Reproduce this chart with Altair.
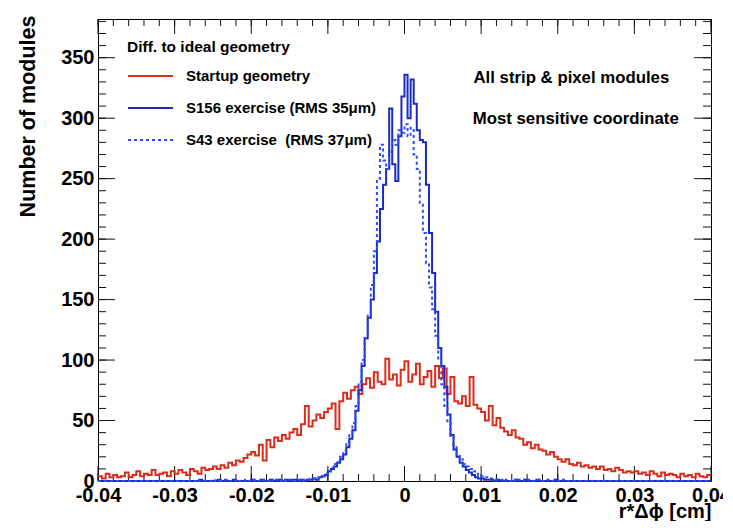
import altair as alt
import pandas as pd

SERIES = ["Startup geometry", "S156 exercise (RMS 35\u03bcm)", "S43 exercise \u00a0(RMS 37\u03bcm)"]
COLORS = ["#dc2b1b", "#1a2cc0", "#2b4dff"]
DASHES = [[1, 0], [1, 0], [3, 3]]

# Startup geometry: 160 bins of 0.0005 from -0.04
red_start = -0.04
red_width = 0.0005
red_counts = [
    4, 2, 6, 3, 5, 3, 4, 7, 3, 5,
    8, 4, 6, 5, 9, 5, 6, 7, 4, 8,
    6, 9, 7, 5, 10, 8, 6, 11, 9, 10,
    12, 10, 13, 11, 15, 13, 17, 16, 19, 22,
    24, 21, 30, 17, 34, 28, 36, 33, 38, 35,
    40, 43, 38, 47, 62, 45, 50, 55, 52, 57,
    60, 64, 43, 66, 73, 68, 75, 78, 72, 80,
    85, 77, 90, 82, 80, 101, 84, 88, 79, 92,
    99, 82, 88, 97, 80, 86, 91, 78, 95, 85,
    93, 72, 86, 66, 64, 70, 62, 86, 63, 60,
    57, 50, 62, 46, 52, 44, 41, 38, 42, 36,
    35, 30, 32, 27, 30, 26, 25, 22, 24, 20,
    18, 16, 18, 14, 13, 15, 12, 13, 11, 12,
    10, 12, 9, 10, 8, 11, 9, 7, 8, 7,
    8, 6, 7, 5, 8, 6, 4, 7, 5, 6,
    5, 3, 6, 4, 5, 3, 6, 4, 3, 5,
]

# S156 / S43 exercises: 200 bins of 0.0004 from -0.04
blue_start = -0.04
blue_width = 0.0004
s156_counts = [
    0, 0, 0, 0, 0, 0, 0, 0, 0, 0,
    0, 0, 0, 0, 0, 0, 0, 0, 0, 0,
    0, 0, 0, 0, 0, 0, 0, 0, 0, 0,
    0, 0, 0, 1, 0, 0, 0, 0, 0, 1,
    0, 0, 0, 0, 1, 0, 0, 0, 0, 0,
    1, 0, 0, 1, 0, 0, 1, 0, 0, 1,
    0, 1, 0, 1, 1,
    0, 1, 0, 1, 1, 2, 1, 3, 4, 5,
    8, 10, 12, 15, 18, 22, 28, 35, 42, 58,
    75, 95, 118, 135, 150, 172, 198, 225, 245, 258,
    308, 262, 248, 285, 318, 336, 300, 332, 312, 290,
    282, 280, 245, 205, 172, 140, 110, 95, 78, 55,
    38, 26, 20, 15, 12, 9, 7, 5, 3, 2,
    2, 1, 1, 1, 0, 1, 0, 0, 0, 0,
    0, 1, 0, 0, 1, 0, 0, 0, 1, 0,
    0, 0, 0, 0, 1, 0, 0, 0, 0, 0,
    0, 0, 0, 0, 0, 0, 0, 0, 0, 0,
    0, 0, 0, 0, 0, 0, 0, 0, 0, 0,
    0, 0, 0, 0, 0, 0, 0, 0, 0, 0,
    0, 0, 0, 0, 0, 0, 0, 0, 0, 0,
    0, 0, 0, 0, 0,
]
s43_counts = [
    0, 0, 0, 0, 0, 0, 0, 0, 0, 0,
    0, 0, 0, 0, 0, 0, 0, 0, 0, 0,
    0, 0, 0, 0, 0, 0, 0, 0, 0, 0,
    0, 0, 1, 0, 0, 0, 0, 1, 0, 0,
    0, 1, 0, 0, 0, 1, 0, 0, 1, 0,
    0, 1, 0, 0, 1, 0, 1, 0, 1, 0,
    1, 0, 1, 1, 0,
    1, 0, 1, 1, 2, 2, 2, 3, 4, 6,
    8, 11, 14, 16, 20, 25, 32, 38, 48, 62,
    82, 100, 118, 138, 162, 190, 250, 278, 265, 258,
    272, 282, 278, 290, 288, 295, 285, 292, 270, 258,
    230, 205, 180, 160, 142, 120, 100, 80, 62, 48,
    36, 28, 22, 18, 14, 12, 10, 8, 6, 5,
    4, 3, 2, 2, 1, 1, 1, 0, 1, 0,
    1, 0, 1, 1, 0, 1, 0, 0, 1, 0,
    0, 1, 0, 0, 0, 0, 1, 0, 0, 0,
    0, 0, 0, 0, 0, 0, 0, 0, 0, 0,
    0, 0, 0, 0, 0, 0, 0, 0, 0, 0,
    0, 0, 0, 0, 0, 0, 0, 0, 0, 0,
    0, 0, 0, 0, 0, 0, 0, 0, 0, 0,
    0, 0, 0, 0, 0,
]

x_major = [-0.04, -0.03, -0.02, -0.01, 0, 0.01, 0.02, 0.03, 0.04]
y_major = [0, 50, 100, 150, 200, 250, 300, 350]
x_minor = [round(-0.04 + 0.002 * i, 4) for i in range(41)]
y_minor = list(range(0, 390, 10))

ann_text = ["All strip & pixel modules", "Most sensitive coordinate"]
ann_x = [0.0090, 0.0089]
ann_y = [333.5, 299.5]

W, H = 613, 462
FONT = "Liberation Sans"
TICK_COLOR = "#111111"

X0, X1 = -0.04, 0.04
Y0, Y1 = 0, 382
PX_Y = (Y1 - Y0) / H
PX_X = (X1 - X0) / W


def hist_frame(name, start, width, counts):
    edges = [start + width * i for i in range(len(counts) + 1)]
    vals = list(counts) + [counts[-1]]
    return pd.DataFrame({"series": name, "x": edges, "count": vals})


df = pd.concat([
    hist_frame(SERIES[0], red_start, red_width, red_counts),
    hist_frame(SERIES[1], blue_start, blue_width, s156_counts),
    hist_frame(SERIES[2], blue_start, blue_width, s43_counts),
], ignore_index=True)

ann = pd.DataFrame({"x": ann_x, "y": ann_y, "text": ann_text})

# frame ticks as two-point line segments (inward ticks on all four frame edges)
tick_rows = []


def add_x_ticks(values, edge, length_px):
    for v in values:
        k = len(tick_rows)
        tick_rows.append({"id": k, "tx": v, "ty": edge})
        tick_rows.append({"id": k, "tx": v, "ty": edge + length_px * PX_Y * (1 if edge == Y0 else -1)})


def add_y_ticks(values, edge, length_px):
    for v in values:
        k = len(tick_rows)
        tick_rows.append({"id": k, "tx": edge, "ty": v})
        tick_rows.append({"id": k, "tx": edge + length_px * PX_X * (1 if edge == X0 else -1), "ty": v})


add_x_ticks(x_major, Y0, 15)
add_x_ticks(x_minor, Y0, 7)
add_x_ticks(x_major, Y1, 15)
add_x_ticks(x_minor, Y1, 7)
add_y_ticks(y_major, X0, 17)
add_y_ticks(y_minor, X0, 8)
add_y_ticks(y_major, X1, 17)
add_y_ticks(y_minor, X1, 8)
ticks_df = pd.DataFrame(tick_rows)

x_scale = alt.Scale(domain=[X0, X1], nice=False, zero=False)
y_scale = alt.Scale(domain=[Y0, Y1], nice=False, zero=True)

legend = alt.Legend(
    title="Diff. to ideal geometry", orient="none", legendX=29, legendY=21,
    symbolType="stroke", symbolSize=2025, symbolStrokeWidth=2,
    labelFont=FONT, labelFontSize=15, labelFontWeight="bold", labelColor="black",
    titleFont=FONT, titleFontSize=15.5, titleFontWeight="bold", titleColor="black",
    padding=0, rowPadding=-17, labelOffset=12, titlePadding=-3,
    labelLimit=400, titleLimit=400,
)

color = alt.Color("series:N", scale=alt.Scale(domain=SERIES, range=COLORS), legend=legend)
dash = alt.StrokeDash("series:N", scale=alt.Scale(domain=SERIES, range=DASHES), legend=legend)

main_x_axis = alt.Axis(
    orient="bottom", values=x_major, ticks=False, tickSize=0, grid=False, domain=False,
    labelFont=FONT, labelFontSize=20, labelFontWeight="bold", labelColor="black",
    labelFlush=False, labelOverlap=False, labelPadding=4, labelBaseline="top",
    labelExpr="datum.value < 0 ? '-' + format(-datum.value, '.2~f') : format(datum.value, '.2~f')",
    title="r*\u0394\u03d5 [cm]", titleFont=FONT, titleFontSize=20, titleFontWeight="bold",
    titleColor="black", titleAnchor="end", titleAlign="right", titleX=W, titleY=30,
    titleBaseline="middle",
)
main_y_axis = alt.Axis(
    orient="left", values=y_major, ticks=False, tickSize=0, grid=False, domain=False,
    labelFont=FONT, labelFontSize=20, labelFontWeight="bold", labelColor="black",
    labelPadding=4, labelOverlap=False, labelFlush=False,
    title="Number of modules", titleFont=FONT, titleFontSize=21.5, titleFontWeight="bold",
    titleColor="black", titleAngle=270, titleAlign="right", titleBaseline="middle",
    titleX=-70, titleY=-4,
)

base = alt.Chart(df)


def series_layer(i):
    return base.transform_filter(alt.datum.series == SERIES[i]).mark_line(
        interpolate="step-after", strokeWidth=2
    ).encode(
        x=alt.X("x:Q", scale=x_scale, axis=main_x_axis),
        y=alt.Y("count:Q", scale=y_scale, axis=main_y_axis),
        color=color, strokeDash=dash,
    )


tick_layer = alt.Chart(ticks_df).mark_line(color=TICK_COLOR, strokeWidth=1).encode(
    x=alt.X("tx:Q", scale=x_scale, axis=main_x_axis),
    y=alt.Y("ty:Q", scale=y_scale, axis=main_y_axis),
    detail="id:N",
)

text = alt.Chart(ann).mark_text(
    align="left", baseline="middle", font=FONT, fontSize=16.8, fontWeight="bold", color="black"
).encode(
    x=alt.X("x:Q", scale=x_scale, axis=main_x_axis),
    y=alt.Y("y:Q", scale=y_scale, axis=main_y_axis),
    text="text:N",
)

chart = alt.layer(
    tick_layer, series_layer(0), series_layer(1), series_layer(2), text
).properties(
    width=W, height=H,
    padding={"left": 90, "top": 11, "right": 12, "bottom": 40},
    autosize=alt.AutoSizeParams(type="none"),
    background="white",
).configure_view(stroke="black", strokeWidth=1)

chart.save("out.html", embed_options={"renderer": "svg", "actions": False})
